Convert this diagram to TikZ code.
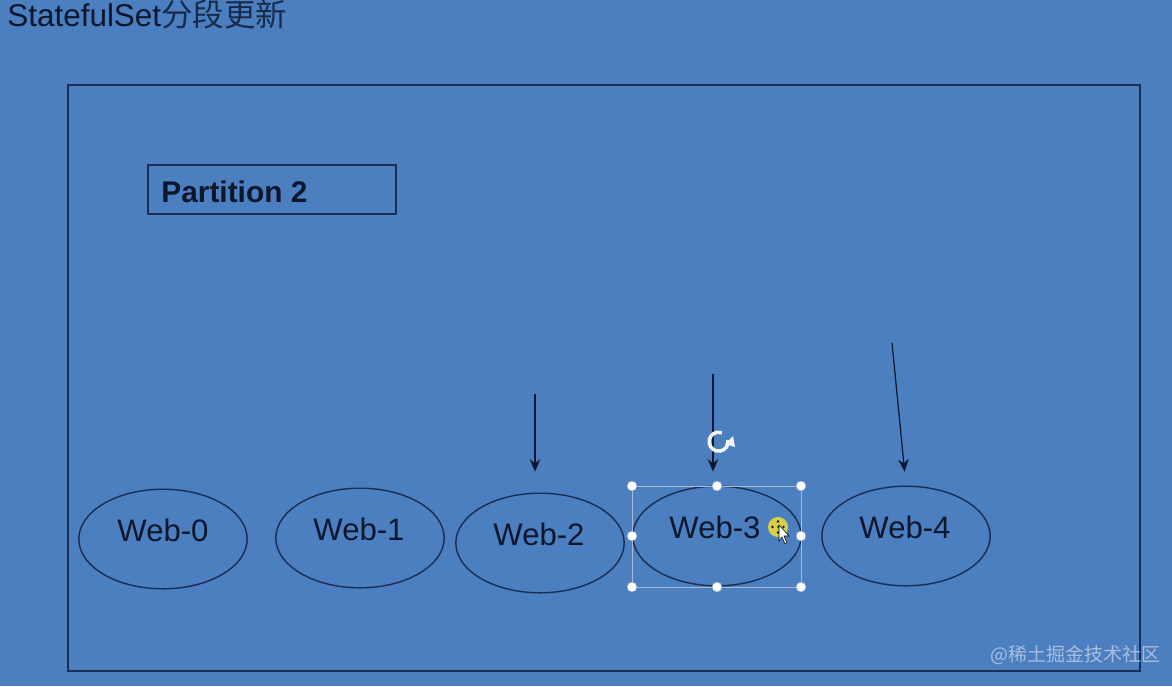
\documentclass[tikz,border=0pt]{standalone}
\usepackage{fontspec}
\setmainfont{Liberation Sans}
\newfontfamily\cjk{Noto Sans CJK SC}
\usetikzlibrary{shapes.geometric,calc,arrows.meta}
\definecolor{bg}{RGB}{75,127,192}
\definecolor{ink}{RGB}{12,22,45}
\definecolor{edge}{RGB}{25,45,85}
\definecolor{selgray}{RGB}{170,185,205}
\definecolor{wm}{RGB}{168,190,222}
\tikzset{
  web/.style={ellipse, draw=edge, line width=0.8pt, minimum width=169*0.567pt, minimum height=100*0.567pt, inner sep=0pt},
  weblbl/.style={text=ink, font=\fontsize{17.7}{20}\selectfont, inner sep=0pt},
  arr/.style={draw=ink, line width=0.7pt, -{Stealth[length=7pt,width=6pt]}},
  handle/.style={circle, fill=white, draw=selgray, line width=0.3pt, minimum size=5.5pt, inner sep=0pt},
}
\begin{document}
\begin{tikzpicture}[x=0.02cm,y=-0.02cm]
\fill[bg] (0,0) rectangle (1172,686);
\useasboundingbox (0,0) rectangle (1172,686);
% title
\node[anchor=base west, inner sep=0pt, text=ink, font=\fontsize{17.9}{20}\selectfont] (title) at (7,27) {StatefulSet{\cjk\color{ink!80!bg}分段更新}};
% outer frame
\draw[edge, line width=0.9pt] (68,85) rectangle (1140,671);
% partition box
\draw[edge, line width=0.8pt] (148,165) rectangle (396,214);
\node[anchor=base west, inner sep=0pt, text=ink, font=\bfseries\fontsize{17}{20}\selectfont] (ptext) at (161,202) {Partition 2};
% ellipses
\node[web] (w0) at (163,539) {};
\node[web] (w1) at (360,538) {};
\node[web] (w2) at (540,543) {};
\node[web] (w3) at (717,536) {};
\node[web] (w4) at (906,536) {};
\node[weblbl] (l0) at ($(w0.center)+(0,-9)$) {Web-0};
\node[weblbl] (l1) at ($(w1.center)+(-1,-9)$) {Web-1};
\node[weblbl] (l2) at ($(w2.center)+(-1,-9)$) {Web-2};
\node[weblbl] (l3) at ($(w3.center)+(-2,-9)$) {Web-3};
\node[weblbl] (l4) at ($(w4.center)+(-1,-9)$) {Web-4};
% arrows
\coordinate (a2) at (535,394);
\coordinate (a3) at (713,374);
\coordinate (a4) at (892,343);
\draw[arr, shorten >=21*0.567pt] (a2) -- (w2.north -| a2);
\draw[arr, shorten >=14*0.567pt] (a3) -- (w3.north -| a3);
\draw[arr, shorten >=14*0.567pt] (a4) -- (w4.north);
% selection frame around Web-3
\draw[selgray, line width=0.4pt] (632,486) rectangle (801,587);
\foreach \x in {632,717,801}{
  \node[handle] at (\x,486) {};
  \node[handle] at (\x,587) {};
}
\node[handle] at (632,536) {};
\node[handle] at (801,536) {};
% rotate handle
\draw[white!92!bg, line width=2pt] (728,440) arc[start angle=-10, end angle=290, radius=9.5];
\fill[white!92!bg] (725,444) -- (733,436) -- (735,447) -- cycle;
% move cursor
\fill[yellow!80!black!85!white] (778,527) circle[radius=10];
\foreach \a in {0,90,180,270}{\fill[ink] ($(778,527)+(\a:5.5)$) circle[radius=1.3];}
\fill[ink] (778,527) circle[radius=1];
\draw[black, fill=white, line width=0.3pt] (779,525) -- (779,541) -- (782,537) -- (785,544) -- (787,543) -- (784,536) -- (789,536) -- cycle;
% watermark
\node[anchor=base west, inner sep=0pt, text=wm, font=\cjk\fontsize{10.8}{12}\selectfont] (wmk) at (990,661) {@稀土掘金技术社区};
\end{tikzpicture}
\end{document}
